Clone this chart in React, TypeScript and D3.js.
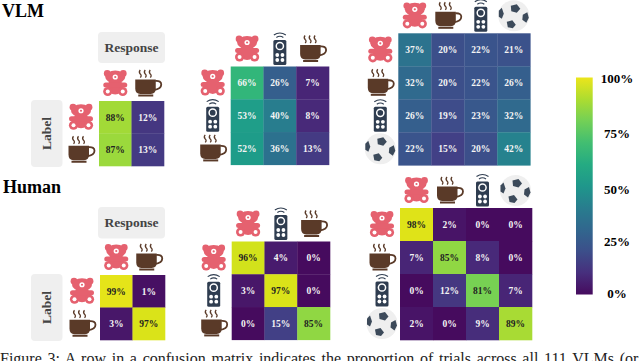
import * as d3 from "d3";

// categories
const bear = "bear";
const cup = "cup";
const remote = "remote";
const ball = "ball";

const twoWay = [bear, cup];
const threeWay = [bear, remote, cup];
const fourWay = [bear, cup, remote, ball];

// percentages, row = label, column = response
const vlmTwo = [[88, 12], [87, 13]];
const vlmThree = [[66, 26, 7], [53, 40, 8], [52, 36, 13]];
const vlmFour = [[37, 20, 22, 21], [32, 20, 22, 26], [26, 19, 23, 32], [22, 15, 20, 42]];
const humanTwo = [[99, 1], [3, 97]];
const humanThree = [[96, 4, 0], [3, 97, 0], [0, 15, 85]];
const humanFour = [[98, 2, 0, 0], [7, 85, 8, 0], [0, 12, 81, 7], [2, 0, 9, 89]];

const barTicks = ["0%", "25%", "50%", "75%", "100%"];
const caption = "Figure 3: A row in a confusion matrix indicates the proportion of trials across all 111 VLMs (or";

// the figure's colours sit a little off plain viridis, so calibrate where each percentage lands on it
const viridisPos = d3.scaleLinear()
    .domain([0, 15, 20, 26, 37, 40, 52, 66, 100])
    .range([0.03, 0.19, 0.24, 0.3, 0.38, 0.42, 0.55, 0.66, 0.97]);
const colour = (v: number) => d3.interpolateViridis(viridisPos(v));

const serif = "'Liberation Serif', serif";

function Icon({ name, cx, cy }: { name: string; cx: number; cy: number }) {
    if (name === bear) {
        return (
            <g transform={`translate(${cx},${cy})`} fill="#e5616f">
                <circle cx={-8} cy={-10} r={3.4} />
                <circle cx={8} cy={-10} r={3.4} />
                <ellipse cx={0} cy={-6.5} rx={10} ry={6.5} />
                <ellipse cx={0} cy={3} rx={7.5} ry={8} />
                <rect x={-12} y={-1} width={24} height={5} rx={2.5} />
                <circle cx={-7.5} cy={8} r={4.6} />
                <circle cx={7.5} cy={8} r={4.6} />
                <circle cx={0} cy={-6.5} r={2.6} fill="#fff" />
                <circle cx={0} cy={-6.5} r={1.1} />
                <circle cx={-7.5} cy={8} r={2} fill="#fff" />
                <circle cx={7.5} cy={8} r={2} fill="#fff" />
            </g>
        );
    }
    if (name === cup) {
        return (
            <g transform={`translate(${cx},${cy})`}>
                <path d="M-12.5,-4H8V5Q8,10 3,10.5H-7.5Q-12.5,10 -12.5,5Z" fill="#5a3a28" />
                <path d="M7.5,-2.5Q13.5,-3 13.5,1Q13.5,5.5 6,6.5" fill="none" stroke="#5a3a28" strokeWidth={1.8} />
                <rect x={-9.5} y={11} width={15} height={2} fill="#5a3a28" />
                {[-7.5, -2.5, 2.5].map((dx) => (
                    <path key={dx} d={`M${dx},-13.5Q${dx - 1.8},-11.5 ${dx},-9.5Q${dx + 1.8},-8 ${dx},-6`} fill="none" stroke="#5a3a28" strokeWidth={1.3} />
                ))}
            </g>
        );
    }
    if (name === remote) {
        return (
            <g transform={`translate(${cx},${cy})`}>
                <rect x={-6.5} y={-9} width={13} height={25} rx={1.5} fill="#2f3d50" />
                <circle cx={0} cy={-3} r={3.6} fill="none" stroke="#fff" strokeWidth={1.5} />
                {[-2.6, 2.6].map((dx) =>
                    [6, 11].map((dy) => <circle key={`${dx}-${dy}`} cx={dx} cy={dy} r={1.9} fill="#fff" />)
                )}
                <path d="M-3.5,-11.5Q0,-14 3.5,-11.5" fill="none" stroke="#2f3d50" strokeWidth={1.1} />
                <path d="M-6,-14Q0,-18 6,-14" fill="none" stroke="#2f3d50" strokeWidth={1.1} />
            </g>
        );
    }
    return (
        <g transform={`translate(${cx},${cy})`} fill="#3c4a5a">
            <circle r={15.5} fill="#efefef" />
            <path d="M-4,-10L2,-11.5L5.5,-7L2,-3L-3.5,-4.5Z" transform="translate(1,0)" />
            <path d="M9,-1L13.5,-3.5L15,2L12.5,7L8.5,4Z" />
            <path d="M-7,6L-1.5,4.5L2,9L-1,12.5L-6,11.5Z" />
            <path d="M-15,-5L-12,-8L-10,-2L-12,3L-15,1Z" />
        </g>
    );
}

function Matrix({ x, y, size, rows, cols, values }: { x: number; y: number; size: number; rows: string[]; cols: string[]; values: number[][] }) {
    const xBand = d3.scaleBand<number>().domain(d3.range(cols.length)).range([x, x + size]);
    const yBand = d3.scaleBand<number>().domain(d3.range(rows.length)).range([y, y + size]);
    const step = xBand.bandwidth();
    return (
        <g>
            {values.map((row, i) =>
                row.map((v, j) => (
                    <g key={`${i}-${j}`}>
                        <rect x={xBand(j)} y={yBand(i)} width={step + 0.3} height={step + 0.3} fill={colour(v)} />
                        <text
                            x={xBand(j)! + step / 2}
                            y={yBand(i)! + step / 2}
                            dy="0.35em"
                            textAnchor="middle"
                            fontSize={9.5}
                            fontWeight="bold"
                            fontFamily={serif}
                            fill={v >= 80 ? "#222" : "#f4f4f4"}
                        >
                            {v}%
                        </text>
                    </g>
                ))
            )}
            {cols.map((c, j) => (
                <Icon key={j} name={c} cx={xBand(j)! + step / 2} cy={y - 17.5} />
            ))}
            {rows.map((r, i) => (
                <Icon key={i} name={r} cx={x - 18} cy={yBand(i)! + step / 2} />
            ))}
        </g>
    );
}

function Tag({ x, y, w, h, text, rotate }: { x: number; y: number; w: number; h: number; text: string; rotate?: boolean }) {
    const cx = x + w / 2;
    const cy = y + h / 2;
    return (
        <g>
            <rect x={x} y={y} width={w} height={h} rx={4} fill="#efefef" />
            <text
                transform={`translate(${cx},${cy})${rotate ? " rotate(-90)" : ""}`}
                dy="0.33em"
                textAnchor="middle"
                fontSize={13.5}
                fontWeight="bold"
                fontFamily={serif}
                fill="#444"
            >
                {text}
            </text>
        </g>
    );
}

export default function App() {
    const barY = d3.scaleLinear().domain([0, 1]).range([294.5, 77.5]);
    // the labels in the figure are not spaced quite evenly
    const tickY = d3.scaleOrdinal<string, number>().domain(barTicks).range([293, 241, 189, 133.5, 78]);
    const stops = d3.range(0, 1.001, 0.1);

    return (
        <svg width={640} height={361} style={{ position: "absolute", left: 0, top: 0 }}>
            <defs>
                <linearGradient id="bar-gradient" x1="0" y1="1" x2="0" y2="0">
                    {stops.map((s) => (
                        <stop key={s} offset={s} stopColor={colour(s * 100)} />
                    ))}
                </linearGradient>
            </defs>

            <text x={2} y={17} fontFamily={serif} fontWeight="bold" fontSize={18}>VLM</text>
            <text x={3} y={193} fontFamily={serif} fontWeight="bold" fontSize={18}>Human</text>

            <Tag x={98} y={32} w={67} h={31} text="Response" />
            <Tag x={31} y={100} w={31.5} h={67} text="Label" rotate />
            <Tag x={98} y={207} w={67} h={31.5} text="Response" />
            <Tag x={31} y={274} w={31.5} h={67} text="Label" rotate />

            <Matrix x={99} y={101} size={65} rows={twoWay} cols={twoWay} values={vlmTwo} />
            <Matrix x={230.7} y={66.5} size={98.3} rows={threeWay} cols={threeWay} values={vlmThree} />
            <Matrix x={398.3} y={33.3} size={132} rows={fourWay} cols={fourWay} values={vlmFour} />
            <Matrix x={100} y={275} size={65} rows={twoWay} cols={twoWay} values={humanTwo} />
            <Matrix x={231.7} y={241.5} size={98.3} rows={threeWay} cols={threeWay} values={humanThree} />
            <Matrix x={400} y={208} size={132} rows={fourWay} cols={fourWay} values={humanFour} />

            <rect x={576} y={barY(1)} width={16.7} height={barY(0) - barY(1)} fill="url(#bar-gradient)" />
            {barTicks.map((t) => (
                <text key={t} x={617} y={tickY(t)} dy="0.35em" textAnchor="middle" fontSize={13} fontWeight="bold" fontFamily={serif}>
                    {t}
                </text>
            ))}

            <text x={0} y={363.5} fontFamily={serif} fontSize={16} wordSpacing={1.7} fill="#222">{caption}</text>
        </svg>
    );
}
